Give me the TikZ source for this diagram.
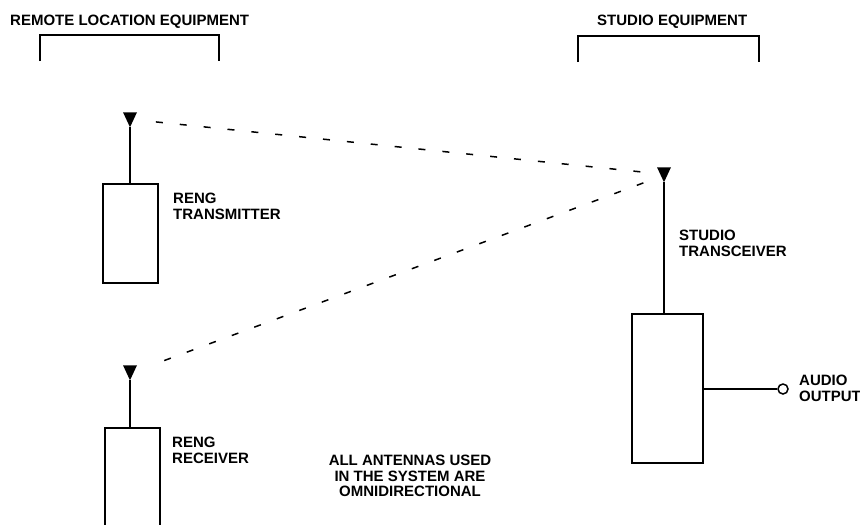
\documentclass[tikz,border=0pt]{standalone}
\usepackage{fontspec}
\setmainfont{Liberation Sans}
\usetikzlibrary{positioning}
\tikzset{
  unit/.style={draw, line width=1.5pt, inner sep=0pt, minimum width=55pt},
  lbl/.style={font=\bfseries\fontsize{15}{15.7}\selectfont, align=left, anchor=west, inner sep=0pt},
  link/.style={line width=1.5pt, dash pattern=on 7pt off 17pt},
  mast/.style={line width=1.5pt},
  bracket/.style={line width=2.2pt},
  jack/.style={circle, draw, line width=1.5pt, minimum size=10pt, inner sep=0pt}
}
% antenna: filled triangle with its tip on the given coordinate
\newcommand{\antenna}[1]{\fill (#1) -- ++(-7,-15) -- ++(14,0) -- cycle;}
\begin{document}
\begin{tikzpicture}[x=1pt,y=-1pt]
\useasboundingbox (0,0) rectangle (860,525);
\clip (0,0) rectangle (860,525);
% group headings
\node[lbl, anchor=base west] (remote) at (10,25) {REMOTE LOCATION EQUIPMENT};
\node[lbl, anchor=base west] (studio) at (597,25) {STUDIO EQUIPMENT};
\draw[bracket] (40,61) |- (219,35) -- (219,61);
\draw[bracket] (578,62) |- (759,36) -- (759,62);
% units
\node[unit, minimum height=99pt] (txbox) at (130.5,233.5) {};
\node[unit, minimum height=120pt] (rxbox) at (132.5,488) {};
\node[unit, minimum width=71pt, minimum height=149pt] (stbox) at (667.5,388.5) {};
% antennas
\path (txbox.north) ++(-0.5,-56) coordinate (txant);
\path (rxbox.north) ++(-2.5,-47) coordinate (rxant);
\path (stbox.north) ++(-3.5,-131) coordinate (stant);
\draw[mast] (txbox.north -| txant) -- (txant);
\draw[mast] (rxbox.north -| rxant) -- (rxant);
\draw[mast] (stbox.north -| stant) -- (stant);
\antenna{txant}
\antenna{rxant}
\antenna{stant}
% radio links
\draw[link, shorten <=26pt, shorten >=20pt] ([yshift=8pt]txant) -- ([yshift=8pt]stant);
\draw[link, shorten <=22pt, shorten >=24pt] ([yshift=7pt]stant) -- ([yshift=7pt]rxant);
% audio output
\node[jack] (audio) at (783,389) {};
\draw[mast] (stbox.east |- audio) -- (audio);
% labels
\node[lbl] (txlbl) at (173,206) {RENG\\TRANSMITTER};
\node[lbl] (rxlbl) at (172,450) {RENG\\RECEIVER};
\node[lbl] (stlbl) at (679,243) {STUDIO\\TRANSCEIVER};
\node[lbl] (audiolbl) at (799,388) {AUDIO\\OUTPUT};
\node[lbl, anchor=center, align=center] (note) at (410,476) {ALL ANTENNAS USED\\IN THE SYSTEM ARE\\OMNIDIRECTIONAL};
\end{tikzpicture}
\end{document}
